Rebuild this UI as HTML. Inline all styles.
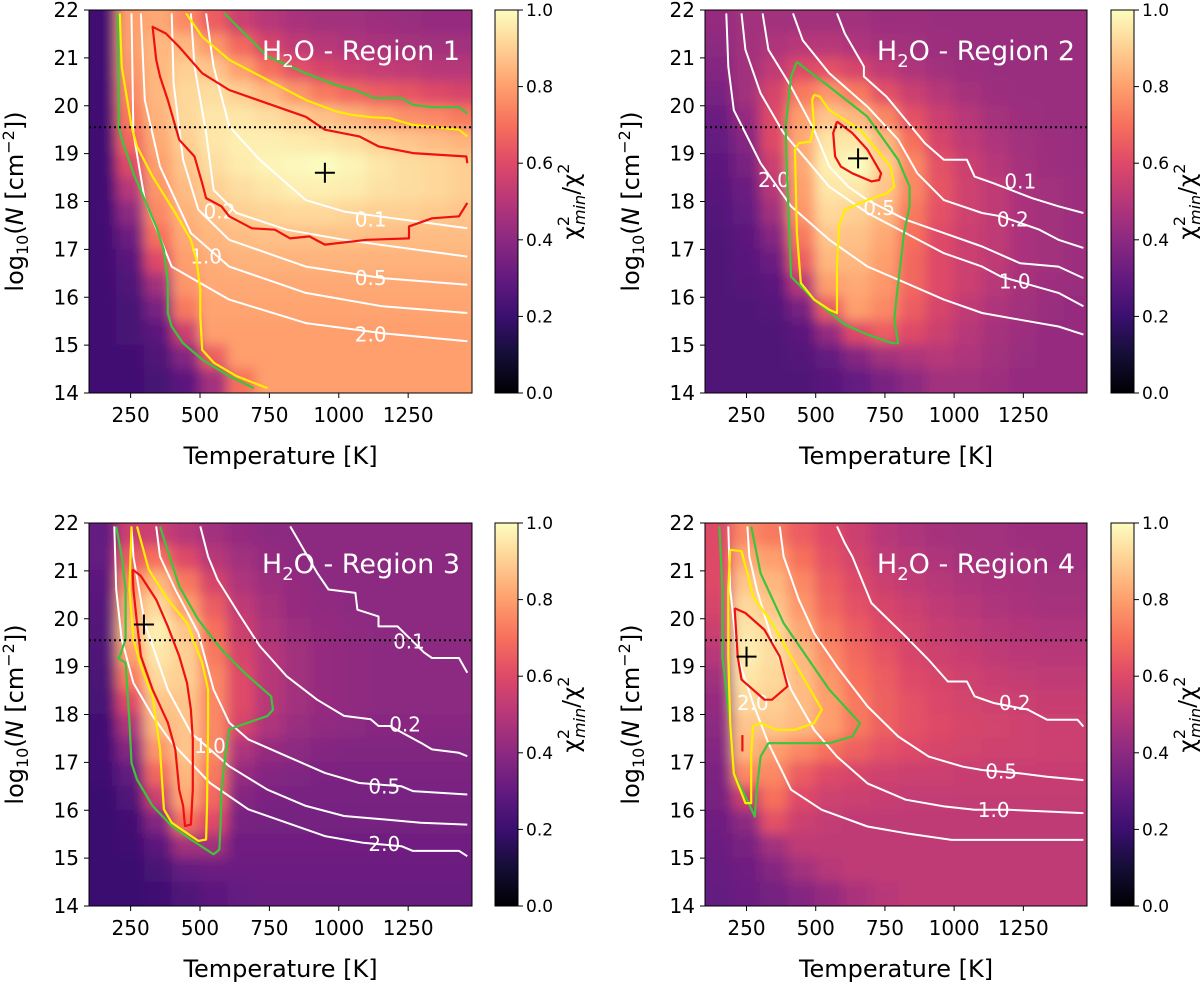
<!DOCTYPE html>
<html><head><meta charset="utf-8">
<style>
html,body{margin:0;padding:0;background:#fff;}
svg{display:block;font-family:"DejaVu Sans","Liberation Sans",sans-serif;}
</style></head>
<body>
<svg id="fig" width="1200" height="983" viewBox="0 0 1200 983" xmlns="http://www.w3.org/2000/svg">
<defs>
<linearGradient id="magmaGrad" x1="0" y1="1" x2="0" y2="0">
<stop offset="0" stop-color="#000004"/><stop offset="0.1" stop-color="#140e36"/><stop offset="0.2" stop-color="#3b0f70"/><stop offset="0.3" stop-color="#641a80"/><stop offset="0.4" stop-color="#8c2981"/><stop offset="0.5" stop-color="#b73779"/><stop offset="0.6" stop-color="#de4968"/><stop offset="0.7" stop-color="#f7705c"/><stop offset="0.8" stop-color="#fe9f6d"/><stop offset="0.9" stop-color="#fecf92"/><stop offset="1" stop-color="#fcfdbf"/>
</linearGradient>
<filter id="smooth" x="-20%" y="-20%" width="140%" height="140%"><feGaussianBlur stdDeviation="6"/></filter>
</defs>
</svg>
<script>
// ---------- shared axes data ----------
const temps = [150,250,350,450,550,650,750,850,950,1050,1150,1250,1350,1450];
const logNrows = [21.75,21.25,20.75,20.25,19.75,19.25,18.75,18.25,17.75,17.25,16.75,16.25,15.75,15.25,14.75,14.25];
const xTicks = [250,500,750,1000,1250];
const yTicks = [14,15,16,17,18,19,20,21,22];
const cbTicks = [0.0,0.2,0.4,0.6,0.8,1.0];
const nLimit = 19.55;

// ---------- Region 1 ----------
const r1Values = [
[.22,.80,.82,.75,.65,.55,.50,.47,.45,.45,.44,.43,.42,.42],
[.22,.80,.85,.85,.78,.68,.58,.52,.50,.48,.47,.46,.45,.45],
[.22,.78,.85,.90,.88,.80,.70,.62,.58,.55,.53,.52,.50,.50],
[.22,.75,.85,.92,.93,.90,.85,.78,.72,.68,.65,.63,.60,.58],
[.22,.72,.84,.92,.95,.95,.93,.90,.87,.84,.80,.77,.75,.72],
[.22,.68,.82,.90,.95,.97,.97,.96,.95,.93,.90,.88,.86,.84],
[.22,.60,.80,.88,.93,.96,.98,.99,1.0,.98,.95,.93,.92,.90],
[.22,.50,.78,.86,.90,.93,.95,.97,.97,.96,.94,.93,.92,.90],
[.22,.40,.75,.84,.87,.90,.91,.92,.92,.91,.90,.90,.89,.88],
[.22,.32,.70,.82,.85,.86,.87,.87,.87,.87,.86,.86,.86,.86],
[.22,.27,.60,.80,.83,.84,.84,.84,.84,.84,.84,.84,.84,.84],
[.22,.25,.45,.78,.82,.82,.82,.82,.82,.82,.82,.82,.82,.82],
[.22,.23,.35,.72,.81,.81,.81,.81,.81,.81,.81,.81,.81,.81],
[.22,.23,.28,.55,.80,.80,.80,.80,.80,.80,.80,.80,.80,.80],
[.22,.22,.25,.38,.65,.80,.80,.80,.80,.80,.80,.80,.80,.80],
[.22,.22,.23,.28,.45,.70,.80,.80,.80,.80,.80,.80,.80,.80]];
const r1Green = [[[204,21.93],[207,19.57],[215,19.36],[260,18.59],[301,18.03],[342,17.48],[370,16.99],[384,16.30],[384,15.67],[398,15.39],[439,15.04],[508,14.70],[605,14.35],[694,14.10]],
 [[588,21.93],[660,21.51],[743,21.03],[881,20.68],[991,20.43],[1060,20.33],[1129,20.16],[1226,20.16],[1267,20.02],[1336,19.97],[1433,19.97],[1463,19.84]]];
const r1Yellow = [[[211,21.93],[218,20.82],[253,19.57],[273,19.15],[329,18.52],[411,17.76],[467,17.2],[487,16.78],[501,16.16],[501,15.6],[508,14.9],[550,14.63],[632,14.35],[743,14.1]],
 [[450,21.93],[508,21.44],[605,20.96],[743,20.54],[881,20.12],[991,19.88],[1046,19.81],[1115,19.76],[1184,19.74],[1267,19.6],[1364,19.54],[1433,19.5],[1463,19.36]]];
const r1Red = [[[1463,18.80],[1460,18.94],[1267,19.01],[1143,19.15],[1074,19.36],[950,19.50],[881,19.77],[743,20.05],[605,20.33],[508,20.68],[425,21.23],[377,21.51],[329,21.65],[342,20.96],[356,20.61],[384,20.12],[425,19.29],[480,18.94],[508,18.38],[522,18.07],[577,17.90],[605,17.69],[687,17.44],[770,17.41],[825,17.23],[894,17.27],[950,17.10],[1101,17.20],[1253,17.23],[1253,17.48],[1336,17.65],[1433,17.69],[1463,17.97]]];
const r1White = [
 [[522,21.93],[549,20.82],[605,19.57],[715,18.87],[881,18.03],[1019,17.79],[1463,17.44]],
 [[467,21.93],[480,20.82],[522,19.43],[549,18.24],[632,17.76],[812,17.41],[1019,17.2],[1463,16.85]],
 [[398,21.93],[405,20.47],[439,18.87],[494,17.83],[605,17.2],[881,16.64],[1157,16.4],[1463,16.26]],
 [[287,21.93],[301,20.12],[356,18.73],[467,17.34],[605,16.64],[881,16.09],[1157,15.81],[1463,15.67]],
 [[253,21.93],[260,19.43],[301,18.03],[398,16.64],[605,15.95],[881,15.46],[1157,15.25],[1463,15.08]]];
const r1Labels = [[1115,17.62,"0.1"],[570,17.79,"0.2"],[522,16.85,"1.0"],[1115,16.4,"0.5"],[1115,15.22,"2.0"]];
const r1Best = [950,18.6];

// ---------- Region 2 ----------
const r2Values = [
[.42,.45,.45,.45,.45,.45,.44,.44,.43,.43,.43,.43,.43,.43],
[.40,.45,.48,.50,.50,.48,.46,.45,.44,.43,.43,.43,.43,.43],
[.38,.45,.52,.60,.62,.58,.52,.48,.45,.44,.43,.43,.43,.43],
[.35,.45,.58,.72,.78,.72,.62,.55,.50,.46,.44,.43,.43,.43],
[.32,.42,.60,.80,.88,.85,.75,.62,.55,.50,.46,.44,.43,.43],
[.30,.38,.60,.82,.95,.95,.85,.70,.58,.52,.48,.45,.44,.43],
[.28,.35,.55,.82,.97,1.0,.90,.75,.62,.55,.50,.46,.44,.43],
[.27,.32,.50,.80,.95,.95,.88,.75,.63,.56,.52,.47,.45,.44],
[.26,.30,.45,.78,.92,.90,.85,.72,.62,.56,.52,.47,.45,.44],
[.25,.28,.38,.72,.88,.87,.82,.70,.60,.55,.52,.47,.45,.44],
[.25,.27,.32,.65,.85,.85,.80,.68,.60,.55,.52,.47,.45,.44],
[.25,.26,.28,.50,.80,.82,.78,.68,.60,.55,.50,.46,.44,.43],
[.25,.25,.26,.35,.65,.80,.75,.65,.58,.52,.48,.45,.43,.42],
[.25,.25,.25,.28,.42,.60,.65,.60,.55,.50,.46,.44,.42,.42],
[.25,.25,.25,.26,.30,.38,.45,.48,.50,.48,.45,.43,.42,.42],
[.25,.25,.25,.25,.27,.30,.35,.40,.45,.45,.44,.42,.42,.42]];
const r2Green = [[[432,20.92],[453,20.82],[549,20.4],[687,19.77],[798,18.87],[839,18.31],[839,17.9],[819,17.34],[805,16.64],[791,15.95],[784,15.53],[798,15.04],[777,15.04],[687,15.22],[605,15.43],[494,15.95],[411,16.43],[405,17.34],[395,18.73],[391,19.57],[411,20.61],[432,20.92]]];
const r2Yellow = [[[494,20.23],[515,20.19],[549,19.91],[660,19.5],[770,18.73],[784,18.31],[756,18.17],[687,18.03],[605,17.83],[584,17.48],[577,16.64],[577,15.67],[549,15.74],[494,15.95],[446,16.3],[432,17.34],[425,19.08],[439,19.22],[480,19.25],[494,19.57],[487,20.12],[494,20.23]]];
const r2Red = [[[577,19.67],[632,19.43],[687,19.08],[736,18.59],[729,18.45],[701,18.42],[632,18.59],[591,18.73],[570,18.94],[563,19.43],[577,19.67]]];
const r2White = [
 [[577,21.93],[605,21.51],[674,20.82],[674,20.61],[756,20.19],[894,19.22],[963,18.87],[1046,18.87],[1074,18.52],[1143,18.38],[1281,18.07],[1377,17.9],[1467,17.76]],
 [[418,21.93],[453,21.37],[549,20.68],[687,19.98],[798,19.29],[867,18.59],[963,18.03],[1101,17.76],[1170,17.69],[1308,17.41],[1377,17.2],[1467,17.03]],
 [[308,21.93],[329,21.17],[411,20.4],[494,19.5],[549,18.73],[618,18.31],[687,18.03],[825,17.62],[963,17.34],[1101,17.06],[1239,16.71],[1377,16.64],[1467,16.4]],
 [[232,21.93],[246,21.17],[301,20.26],[384,19.43],[467,18.87],[549,18.31],[687,17.76],[825,17.34],[963,16.92],[1101,16.64],[1170,16.43],[1377,16.09],[1467,15.81]],
 [[177,21.93],[184,20.82],[204,19.91],[246,19.43],[301,18.8],[411,17.9],[549,17.2],[687,16.64],[825,16.3],[963,15.95],[1101,15.67],[1239,15.53],[1377,15.39],[1467,15.22]]];
const r2Labels = [[1239,18.42,"0.1"],[1212,17.62,"0.2"],[729,17.86,"0.5"],[1219,16.33,"1.0"],[349,18.45,"2.0"]];
const r2Best = [653,18.9];

// ---------- Region 3 ----------
const r3Values = [
[.30,.55,.55,.50,.45,.42,.40,.40,.40,.40,.40,.40,.40,.40],
[.30,.65,.70,.60,.50,.45,.42,.40,.40,.40,.40,.40,.40,.40],
[.28,.75,.85,.72,.58,.48,.44,.42,.40,.40,.40,.40,.40,.40],
[.27,.82,.92,.80,.65,.52,.46,.42,.41,.40,.40,.40,.40,.40],
[.26,.85,.97,.88,.70,.55,.48,.44,.42,.41,.40,.40,.40,.40],
[.25,.80,.95,.90,.72,.58,.50,.45,.42,.41,.40,.40,.40,.40],
[.24,.72,.92,.90,.75,.60,.50,.45,.42,.41,.40,.40,.40,.40],
[.23,.60,.88,.88,.75,.60,.50,.45,.42,.41,.40,.40,.40,.40],
[.22,.48,.85,.88,.75,.58,.48,.43,.41,.40,.39,.39,.39,.39],
[.22,.38,.78,.88,.75,.48,.42,.40,.38,.37,.37,.37,.37,.37],
[.21,.30,.68,.85,.72,.42,.38,.37,.36,.36,.36,.36,.36,.36],
[.20,.25,.55,.82,.68,.38,.36,.35,.35,.35,.35,.35,.35,.35],
[.20,.22,.38,.70,.60,.35,.34,.34,.34,.34,.34,.34,.34,.34],
[.20,.21,.28,.45,.45,.33,.33,.33,.33,.33,.33,.33,.33,.33],
[.20,.20,.23,.30,.32,.32,.32,.32,.32,.32,.32,.32,.32,.32],
[.20,.20,.21,.25,.28,.30,.31,.31,.31,.31,.31,.31,.31,.31]];
const r3Green = [[[198,21.93],[218,21.3],[232,20.61],[232,19.57],[211,19.22],[204,19.18],[232,19.08],[246,17.83],[253,16.99],[273,16.64],[329,16.09],[398,15.67],[467,15.39],[549,15.08],[570,15.18],[574,15.74],[577,16.43],[591,17.13],[605,17.69],[674,17.83],[743,17.97],[763,18.1],[756,18.38],[715,18.59],[660,18.87],[577,19.36],[494,19.98],[425,20.68],[356,21.93]]];
const r3Yellow = [[[253,21.93],[246,20.61],[260,19.57],[287,19.01],[329,18.38],[356,17.27],[370,16.02],[398,15.74],[494,15.36],[522,15.39],[525,16.09],[529,17.83],[529,18.52],[508,19.08],[453,19.91],[384,20.4],[315,21.03],[273,21.93]]];
const r3Red = [[[257,21.03],[287,20.89],[342,20.4],[384,19.84],[425,19.22],[453,18.66],[467,18.1],[474,17.48],[474,16.43],[467,15.7],[446,15.67],[439,16.09],[425,16.43],[411,17.27],[384,17.83],[329,18.52],[287,19.22],[273,19.91],[260,20.61],[257,21.03]]];
const r3White = [
 [[825,21.93],[853,21.65],[922,20.96],[963,20.61],[1060,20.54],[1067,20.19],[1143,20.05],[1143,19.84],[1212,19.84],[1308,19.29],[1336,19.18],[1433,19.18],[1463,18.87]],
 [[501,21.93],[529,21.3],[563,20.82],[646,20.05],[715,19.43],[812,18.8],[922,18.31],[1019,17.97],[1115,17.9],[1143,17.76],[1184,17.76],[1295,17.41],[1336,17.27],[1433,17.2],[1463,17.13]],
 [[342,21.93],[356,21.3],[411,20.61],[494,19.7],[549,18.52],[605,17.83],[674,17.48],[812,17.13],[950,16.78],[1074,16.57],[1226,16.5],[1267,16.4],[1463,16.33]],
 [[253,21.93],[260,21.3],[301,19.91],[384,18.52],[467,17.62],[605,16.92],[743,16.43],[881,16.09],[1019,15.88],[1157,15.81],[1295,15.74],[1463,15.7]],
 [[191,21.93],[198,20.61],[218,19.57],[260,18.66],[329,17.97],[398,17.41],[536,16.57],[674,16.02],[812,15.74],[950,15.46],[1088,15.32],[1226,15.25],[1267,15.15],[1433,15.15],[1463,15.04]]];
const r3Labels = [[1253,19.53,"0.1"],[1239,17.79,"0.2"],[536,17.34,"1.0"],[1164,16.5,"0.5"],[1164,15.29,"2.0"]];
const r3Best = [298,19.88];

// ---------- Region 4 ----------
const r4Values = [
[.60,.75,.72,.65,.60,.55,.50,.48,.46,.45,.45,.44,.44,.44],
[.60,.82,.80,.70,.62,.57,.52,.50,.48,.46,.45,.45,.44,.44],
[.60,.88,.85,.75,.65,.60,.55,.52,.50,.48,.47,.46,.45,.45],
[.58,.92,.88,.78,.68,.62,.58,.55,.52,.50,.48,.47,.46,.46],
[.55,.95,.92,.82,.72,.65,.60,.57,.54,.52,.50,.49,.48,.48],
[.50,.97,.93,.85,.75,.68,.63,.58,.56,.54,.52,.51,.50,.50],
[.45,.95,.92,.86,.78,.70,.65,.60,.58,.56,.54,.53,.52,.52],
[.42,.92,.90,.86,.80,.72,.66,.62,.59,.57,.56,.55,.54,.54],
[.40,.88,.88,.85,.80,.72,.66,.62,.60,.58,.57,.56,.55,.55],
[.38,.85,.80,.75,.70,.66,.62,.60,.58,.57,.56,.56,.55,.55],
[.36,.75,.75,.65,.60,.58,.56,.55,.55,.54,.54,.54,.54,.54],
[.35,.55,.70,.60,.56,.55,.54,.53,.53,.53,.53,.53,.53,.53],
[.33,.40,.62,.55,.53,.52,.52,.52,.52,.52,.52,.52,.52,.52],
[.32,.35,.45,.52,.52,.52,.52,.52,.52,.52,.52,.52,.52,.52],
[.31,.33,.38,.45,.50,.52,.52,.52,.52,.52,.52,.52,.52,.52],
[.30,.32,.34,.38,.42,.47,.50,.52,.52,.52,.52,.52,.52,.52]];
const r4Green = [[[267,21.93],[301,20.95],[384,19.91],[467,19.21],[549,18.52],[660,17.82],[632,17.54],[549,17.4],[329,17.4],[301,17.12],[287,16.43],[280,15.87],[246,16.29],[204,16.77],[191,17.82],[163,19.21],[163,20.61],[152,21.93]]];
const r4Yellow = [[[191,21.44],[232,21.41],[253,20.95],[273,20.47],[342,19.91],[411,19.21],[480,18.52],[522,18.1],[494,17.82],[425,17.68],[356,17.68],[301,17.82],[273,17.75],[267,17.12],[267,16.15],[246,16.15],[204,16.77],[191,17.82],[184,19.21],[184,20.61],[191,21.44]]];
const r4Red = [[[207,20.22],[246,20.12],[315,19.77],[370,19.21],[398,18.59],[342,18.31],[315,18.31],[273,18.52],[232,18.73],[218,19.21],[207,20.22]],[[235,17.57],[235,17.23]]];
const r4White = [
 [[577,21.93],[605,21.58],[632,21.3],[701,20.33],[825,19.63],[908,19.14],[977,18.69],[1046,18.69],[1074,18.38],[1143,18.24],[1267,18.1],[1336,17.89],[1446,17.89],[1467,17.75]],
 [[370,21.93],[384,21.3],[439,20.4],[494,19.7],[577,19.0],[687,18.17],[798,17.54],[908,17.12],[1032,16.91],[1101,16.84],[1239,16.77],[1336,16.7],[1467,16.63]],
 [[253,21.93],[260,21.3],[287,20.61],[342,19.56],[411,18.52],[494,17.68],[577,17.12],[687,16.56],[825,16.22],[963,16.08],[1074,16.01],[1198,16.01],[1467,15.94]],
 [[184,21.93],[191,20.61],[218,19.21],[273,18.24],[329,17.4],[411,16.43],[522,16.01],[687,15.66],[825,15.52],[991,15.38],[1467,15.38]]];
const r4Labels = [[1219,18.24,"0.2"],[1170,16.81,"0.5"],[1143,16.01,"1.0"],[273,18.24,"2.0"]];
const r4Best = [250,19.21];

// ---------- rendering ----------
const NS = "http://www.w3.org/2000/svg";
const svg = document.getElementById("fig");
const T_MIN = 100, T_MAX = 1480, N_MIN = 14, N_MAX = 22;
const magma = [[0,[0,0,4]],[.1,[20,14,54]],[.2,[59,15,112]],[.3,[100,26,128]],[.4,[140,41,129]],[.5,[183,55,121]],[.6,[222,73,104]],[.7,[247,112,92]],[.8,[254,159,109]],[.9,[254,207,146]],[1,[252,253,191]]];
function cmap(v){
  v = Math.max(0, Math.min(1, v));
  for (let i = 1; i < magma.length; i++) {
    if (v <= magma[i][0]) {
      const a = magma[i-1], b = magma[i], f = (v - a[0]) / (b[0] - a[0]);
      const c = a[1].map((x, k) => Math.round(x + (b[1][k] - x) * f));
      return "rgb(" + c.join(",") + ")";
    }
  }
  return "rgb(252,253,191)";
}
function mk(tag, attrs, parent){
  const e = document.createElementNS(NS, tag);
  for (const k in attrs) e.setAttribute(k, attrs[k]);
  (parent || svg).appendChild(e);
  return e;
}

const panels = [
 {id:1, L:89, R:472, T:10, B:393, vals:r1Values, green:r1Green, yellow:r1Yellow, red:r1Red, white:r1White, labels:r1Labels, best:r1Best},
 {id:2, L:705, R:1087, T:10, B:393, vals:r2Values, green:r2Green, yellow:r2Yellow, red:r2Red, white:r2White, labels:r2Labels, best:r2Best},
 {id:3, L:89, R:472, T:523, B:906, vals:r3Values, green:r3Green, yellow:r3Yellow, red:r3Red, white:r3White, labels:r3Labels, best:r3Best},
 {id:4, L:705, R:1087, T:523, B:906, vals:r4Values, green:r4Green, yellow:r4Yellow, red:r4Red, white:r4White, labels:r4Labels, best:r4Best}
];

panels.forEach(p => {
  const xs = t => p.L + (t - T_MIN) / (T_MAX - T_MIN) * (p.R - p.L);
  const ys = n => p.B - (n - N_MIN) / (N_MAX - N_MIN) * (p.B - p.T);
  const pg = mk("g", {});
  
  

  const clip = mk("clipPath", {id: "clip" + p.id}, pg);
  mk("rect", {x: p.L, y: p.T, width: p.R - p.L, height: p.B - p.T}, clip);

  const clipped = mk("g", {"clip-path": "url(#clip" + p.id + ")"}, pg);
  const hm = mk("g", {filter: "url(#smooth)"}, clipped);
  
  
  const nR = p.vals.length, pad = 40;
  p.vals.forEach((row, ri) => {
    const n = logNrows[ri];
    const nC = row.length;
    row.forEach((v, ci) => {
      const t = temps[ci];
      let x0 = xs(t - 50), x1 = xs(t + 50), y0 = ys(n + 0.25), y1 = ys(n - 0.25);
      if (ci === 0) x0 -= pad;
      if (ci === nC - 1) x1 += pad;
      if (ri === 0) y0 -= pad;
      if (ri === nR - 1) y1 += pad;
      const c = mk("rect", {x: x0 - 0.5, y: y0 - 0.5, width: x1 - x0 + 1, height: y1 - y0 + 1, fill: cmap(v)}, hm);
      
      
    });
  });

  const pathD = pts => pts.map((q, i) => (i ? "L" : "M") + xs(q[0]).toFixed(1) + " " + ys(q[1]).toFixed(1)).join(" ");
  p.white.forEach(line => {
    const e = mk("path", {d: pathD(line), fill: "none", stroke: "#fff", "stroke-width": 2, "stroke-linejoin": "round"}, clipped);
    
    
  });
  p.labels.forEach(lb => {
    const e = mk("text", {x: xs(lb[0]), y: ys(lb[1]) + 7, fill: "#fff", "font-size": 20, "text-anchor": "middle"}, clipped);
    e.textContent = lb[2];
    
    
  });
  [[p.green, "#3cc43c", "green-contour"], [p.yellow, "#ffee00", "yellow-contour"], [p.red, "#ee1111", "red-contour"]].forEach(set => {
    set[0].forEach(line => {
      const e = mk("path", {d: pathD(line), fill: "none", stroke: set[1], "stroke-width": 2.2, "stroke-linejoin": "round"}, clipped);
      
      
    });
  });
  const dl = mk("line", {x1: p.L, x2: p.R, y1: ys(nLimit), y2: ys(nLimit), stroke: "#000", "stroke-width": 2, "stroke-dasharray": "2 3"}, clipped);
  
  
  const bx = xs(p.best[0]), by = ys(p.best[1]);
  const bm = mk("path", {d: `M${bx-10} ${by}H${bx+10}M${bx} ${by-10}V${by+10}`, stroke: "#000", "stroke-width": 2}, clipped);
  
  

  const title = mk("text", {x: p.R - 12, y: p.T + 50, fill: "#fff", "font-size": 27, "text-anchor": "end"}, pg);
  title.innerHTML = 'H<tspan font-size="18" dy="7">2</tspan><tspan dy="-7">O - Region ' + p.id + '</tspan>';
  
  

  const frame = mk("rect", {x: p.L, y: p.T, width: p.R - p.L, height: p.B - p.T, fill: "none", stroke: "#000", "stroke-width": 1}, pg);
  
  

  xTicks.forEach(t => {
    const x = xs(t);
    mk("line", {x1: x, x2: x, y1: p.B, y2: p.B + 5, stroke: "#000"}, pg);
    const e = mk("text", {x: x, y: p.B + 29, "font-size": 20, "text-anchor": "middle", fill: "#000"}, pg);
    e.textContent = t;
    
    
  });
  yTicks.forEach(n => {
    const y = ys(n);
    mk("line", {x1: p.L - 5, x2: p.L, y1: y, y2: y, stroke: "#000"}, pg);
    const e = mk("text", {x: p.L - 10, y: y + 7, "font-size": 20, "text-anchor": "end", fill: "#000"}, pg);
    e.textContent = n;
    
    
  });
  const xl = mk("text", {x: (p.L + p.R) / 2, y: p.B + 71, "font-size": 24, "text-anchor": "middle", fill: "#000"}, pg);
  xl.textContent = "Temperature [K]";
  
  
  const ylx = p.L - 66, yly = (p.T + p.B) / 2;
  const yl = mk("text", {x: ylx, y: yly, "font-size": 24, "text-anchor": "middle", fill: "#000", transform: `rotate(-90 ${ylx} ${yly})`}, pg);
  yl.innerHTML = 'log<tspan font-size="16" dy="5">10</tspan><tspan dy="-5">(</tspan><tspan font-style="italic">N</tspan> [cm<tspan font-size="16" dy="-9">−2</tspan><tspan dy="9">])</tspan>';
  
  

  // colorbar
  const cbL = p.L + 406, cbW = 23;
  const cb = mk("rect", {x: cbL, y: p.T, width: cbW, height: p.B - p.T, fill: "url(#magmaGrad)", stroke: "#000", "stroke-width": 1}, pg);
  
  
  cbTicks.forEach(v => {
    const y = p.B - v * (p.B - p.T);
    mk("line", {x1: cbL + cbW, x2: cbL + cbW + 5, y1: y, y2: y, stroke: "#000"}, pg);
    const e = mk("text", {x: cbL + cbW + 8, y: y + 6, "font-size": 17, fill: "#000"}, pg);
    e.textContent = v.toFixed(1);
    
    
  });
  const clx = cbL + 84, cly = (p.T + p.B) / 2;
  const cl = mk("text", {x: clx, y: cly, "font-size": 23, "text-anchor": "middle", fill: "#000", transform: `rotate(-90 ${clx} ${cly})`}, pg);
  cl.innerHTML = 'χ<tspan font-size="16" dy="-10">2</tspan><tspan font-size="16" font-style="italic" dx="-9" dy="16">min</tspan><tspan dy="-6">/χ</tspan><tspan font-size="16" dy="-10">2</tspan>';
  
  
});
</script>
</body></html>
